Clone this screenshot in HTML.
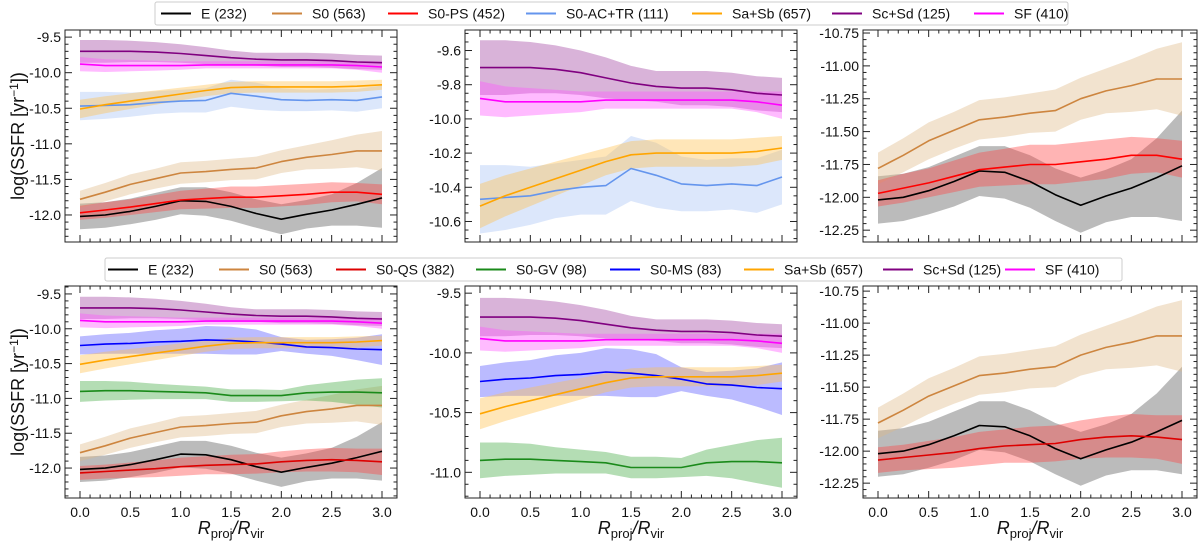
<!DOCTYPE html>
<html><head><meta charset="utf-8">
<style>
html,body{margin:0;padding:0;background:#fff;}
body{width:1200px;height:542px;overflow:hidden;font-family:"Liberation Sans",sans-serif;}
svg text{font-family:"Liberation Sans",sans-serif;fill:#111;}
</style></head>
<body>
<svg id="fig" width="1200" height="542" xmlns="http://www.w3.org/2000/svg"></svg>
<script>
const xs = [0,0.25,0.5,0.75,1.0,1.25,1.5,1.75,2.0,2.25,2.5,2.75,3.0];
const E_val   = [-12.02,-12.0,-11.95,-11.88,-11.8,-11.81,-11.88,-11.98,-12.06,-11.99,-11.93,-11.85,-11.76];
const E_err   = [0.18,0.18,0.18,0.19,0.19,0.2,0.2,0.2,0.21,0.2,0.22,0.3,0.42];
const S0_val  = [-11.78,-11.68,-11.57,-11.49,-11.41,-11.39,-11.36,-11.34,-11.25,-11.19,-11.15,-11.1,-11.1];
const S0_err  = [0.12,0.13,0.14,0.14,0.15,0.15,0.15,0.16,0.16,0.17,0.2,0.23,0.28];
const PS_val  = [-11.97,-11.93,-11.89,-11.84,-11.79,-11.77,-11.75,-11.75,-11.73,-11.71,-11.68,-11.68,-11.71];
const PS_err  = [0.1,0.11,0.11,0.12,0.13,0.14,0.15,0.15,0.15,0.15,0.14,0.13,0.14];
const AC_val  = [-10.47,-10.46,-10.45,-10.42,-10.4,-10.39,-10.29,-10.33,-10.38,-10.39,-10.38,-10.39,-10.34];
const AC_err  = [0.2,0.19,0.17,0.16,0.16,0.17,0.19,0.19,0.16,0.15,0.15,0.16,0.16];
const SaSb_val= [-10.51,-10.45,-10.4,-10.35,-10.3,-10.25,-10.21,-10.2,-10.2,-10.2,-10.2,-10.19,-10.17];
const SaSb_err= [0.13,0.12,0.11,0.1,0.09,0.08,0.08,0.08,0.08,0.08,0.08,0.08,0.07];
const ScSd_val= [-9.7,-9.7,-9.7,-9.71,-9.73,-9.76,-9.79,-9.81,-9.82,-9.82,-9.83,-9.85,-9.86];
const ScSd_err= [0.16,0.16,0.15,0.14,0.13,0.12,0.1,0.09,0.1,0.1,0.1,0.1,0.1];
const SF_val  = [-9.88,-9.9,-9.9,-9.9,-9.9,-9.89,-9.89,-9.89,-9.89,-9.89,-9.89,-9.9,-9.92];
const SF_err  = [0.1,0.09,0.08,0.07,0.06,0.05,0.05,0.05,0.05,0.05,0.05,0.06,0.08];
const QS_val  = [-12.07,-12.05,-12.03,-12.01,-11.98,-11.96,-11.95,-11.94,-11.91,-11.89,-11.88,-11.89,-11.91];
const QS_err  = [0.1,0.1,0.11,0.12,0.13,0.13,0.14,0.14,0.15,0.16,0.17,0.17,0.19];
const GV_val  = [-10.9,-10.89,-10.89,-10.9,-10.91,-10.92,-10.96,-10.96,-10.96,-10.92,-10.91,-10.91,-10.92];
const GV_err  = [0.15,0.14,0.13,0.11,0.1,0.09,0.09,0.09,0.08,0.11,0.14,0.18,0.21];
const MS_val  = [-10.24,-10.22,-10.21,-10.19,-10.18,-10.16,-10.17,-10.19,-10.22,-10.26,-10.27,-10.29,-10.3];
const MS_err  = [0.13,0.14,0.15,0.17,0.18,0.2,0.2,0.18,0.1,0.1,0.12,0.16,0.22];
const xTicks = ["0.0","0.5","1.0","1.5","2.0","2.5","3.0"];

const S = {
 E:{name:"e",v:E_val,e:E_err,c:"#000000",f:"#555555"},
 S0:{name:"s0",v:S0_val,e:S0_err,c:"#cd853f",f:"#deb887"},
 PS:{name:"s0-ps",v:PS_val,e:PS_err,c:"#ff0000",f:"#ff4444"},
 AC:{name:"s0-ac-tr",v:AC_val,e:AC_err,c:"#6495ed",f:"#a8c4f5"},
 SaSb:{name:"sa-sb",v:SaSb_val,e:SaSb_err,c:"#ffa500",f:"#ffc04d"},
 ScSd:{name:"sc-sd",v:ScSd_val,e:ScSd_err,c:"#800080",f:"#a040a0"},
 SF:{name:"sf",v:SF_val,e:SF_err,c:"#ff00ff",f:"#ff55ff"},
 QS:{name:"s0-qs",v:QS_val,e:QS_err,c:"#dd0000",f:"#ff4444"},
 GV:{name:"s0-gv",v:GV_val,e:GV_err,c:"#1a8a1a",f:"#44aa44"},
 MS:{name:"s0-ms",v:MS_val,e:MS_err,c:"#0000ff",f:"#5555ff"}
};
const NS="http://www.w3.org/2000/svg";
const svg=document.getElementById('fig');
function mk(tag,attrs,parent){const el=document.createElementNS(NS,tag);for(const k in attrs)el.setAttribute(k,attrs[k]);(parent||svg).appendChild(el);return el;}

const panels=[
 {id:"top-left",L:65,R:397,T:30,B:242,ymax:-9.40,ymin:-12.38,maj:[-9.5,-10,-10.5,-11,-11.5,-12],fmt:1,minor:0.1,ser:["E","S0","PS","AC","SaSb","ScSd","SF"],xl:false,ytitle:true},
 {id:"top-middle",L:465,R:797,T:30,B:242,ymax:-9.48,ymin:-10.72,maj:[-9.6,-9.8,-10,-10.2,-10.4,-10.6],fmt:1,minor:0.05,ser:["AC","SaSb","ScSd","SF"],xl:false},
 {id:"top-right",L:863,R:1197,T:30,B:242,ymax:-10.727,ymin:-12.34,maj:[-10.75,-11,-11.25,-11.5,-11.75,-12,-12.25],fmt:2,minor:0.05,ser:["E","S0","PS"],xl:false},
 {id:"bottom-left",L:65,R:397,T:286,B:498,ymax:-9.386,ymin:-12.43,maj:[-9.5,-10,-10.5,-11,-11.5,-12],fmt:1,minor:0.1,ser:["E","S0","QS","GV","MS","SaSb","ScSd","SF"],xl:true,ytitle:true},
 {id:"bottom-middle",L:465,R:797,T:286,B:498,ymax:-9.44,ymin:-11.215,maj:[-9.5,-10,-10.5,-11],fmt:1,minor:0.1,ser:["GV","MS","SaSb","ScSd","SF"],xl:true},
 {id:"bottom-right",L:863,R:1197,T:286,B:498,ymax:-10.71,ymin:-12.366,maj:[-10.75,-11,-11.25,-11.5,-11.75,-12,-12.25],fmt:2,minor:0.05,ser:["E","S0","QS"],xl:true}
];

panels.forEach(p=>{
 const g=mk('g',{});
 
 
 const x0=p.L+15,x3=p.R-15;
 const X=v=>x0+(x3-x0)*v/3;
 const Y=v=>p.T+(p.ymax-v)/(p.ymax-p.ymin)*(p.B-p.T);
 p.ser.forEach(k=>{
  const s=S[k];
  let up=xs.map((x,i)=>X(x).toFixed(1)+","+Y(s.v[i]+s.e[i]).toFixed(1));
  let lo=xs.map((x,i)=>X(x).toFixed(1)+","+Y(s.v[i]-s.e[i]).toFixed(1)).reverse();
  const b=mk('polygon',{points:up.concat(lo).join(" "),fill:s.f,'fill-opacity':0.4},g);
  
  
 });
 p.ser.forEach(k=>{
  const s=S[k];
  const l=mk('polyline',{points:xs.map((x,i)=>X(x).toFixed(1)+","+Y(s.v[i]).toFixed(1)).join(" "),fill:"none",stroke:s.c,'stroke-width':1.6,'stroke-linejoin':'round'},g);
  
  
 });
 const fr=mk('rect',{x:p.L,y:p.T,width:p.R-p.L,height:p.B-p.T,fill:"none",stroke:"#222",'stroke-width':1},g);
 
 
 for(let i=0;i<=30;i++){const v=i*0.1;const xx=X(v);const len=(i%5===0)?7:3.5;
  mk('line',{x1:xx,x2:xx,y1:p.B,y2:p.B-len,stroke:"#222"},g);
  mk('line',{x1:xx,x2:xx,y1:p.T,y2:p.T+len,stroke:"#222"},g);}
 if(p.xl){xTicks.forEach((t,i)=>{const tx=mk('text',{x:X(i*0.5),y:p.B+19,'text-anchor':'middle','font-size':14},g);tx.textContent=t;
   });
  const xt=mk('text',{x:(p.L+p.R)/2,y:p.B+36,'text-anchor':'middle','font-size':18,'font-style':'italic'},g);
  xt.innerHTML='R<tspan font-size="13" dy="4" font-style="normal">proj</tspan><tspan dy="-4">/R</tspan><tspan font-size="13" dy="4" font-style="normal">vir</tspan>';
  }
 const st=p.minor;const n0=Math.ceil(p.ymin/st-1e-6),n1=Math.floor(p.ymax/st+1e-6);
 for(let n=n0;n<=n1;n++){const v=n*st;const yy=Y(v);
  const isMaj=p.maj.some(m=>Math.abs(m-v)<1e-6);const len=isMaj?7:3.5;
  mk('line',{x1:p.L,x2:p.L+len,y1:yy,y2:yy,stroke:"#222"},g);
  mk('line',{x1:p.R,x2:p.R-len,y1:yy,y2:yy,stroke:"#222"},g);}
 p.maj.forEach(m=>{const t=mk('text',{x:p.L-4,y:Y(m)+5,'text-anchor':'end','font-size':14},g);t.textContent=m.toFixed(p.fmt);
  });
 if(p.ytitle){const cy=(p.T+p.B)/2;const t=mk('text',{x:0,y:0,transform:`translate(24,${cy}) rotate(-90)`,'text-anchor':'middle','font-size':18},g);
  t.innerHTML='log(SSFR [yr<tspan font-size="12" dy="-6">−1</tspan><tspan dy="6">])</tspan>';
  }
});

function legend(name,x0,y0,w,h,items){
 const g=mk('g',{});
 
 
 mk('rect',{x:x0,y:y0,width:w,height:h,fill:"#fff",stroke:"#ccc",rx:2},g);
 items.forEach(it=>{
  const s=S[it[0]];const cy=y0+h/2;
  const e=mk('g',{},g);
  
  
  mk('line',{x1:it[1],x2:it[1]+30,y1:cy,y2:cy,stroke:s.c,'stroke-width':2},e);
  const t=mk('text',{x:it[1]+40,y:cy+5,'font-size':14},e);t.textContent=it[2];
 });
}
legend('top-legend',155,2,913,23,[["E",161,"E (232)"],["S0",272,"S0 (563)"],["PS",388,"S0-PS (452)"],["AC",526,"S0-AC+TR (111)"],["SaSb",692,"Sa+Sb (657)"],["ScSd",832,"Sc+Sd (125)"],["SF",974,"SF (410)"]]);
legend('bottom-legend',105,258,1017,23,[["E",108,"E (232)"],["S0",219,"S0 (563)"],["QS",336,"S0-QS (382)"],["GV",476,"S0-GV (98)"],["MS",610,"S0-MS (83)"],["SaSb",744,"Sa+Sb (657)"],["ScSd",883,"Sc+Sd (125)"],["SF",1005,"SF (410)"]]);
</script>
</body></html>
